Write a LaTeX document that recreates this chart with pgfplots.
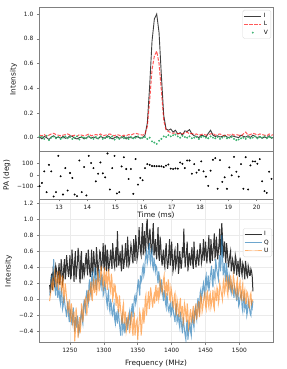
\documentclass[border=0pt]{standalone}
\usepackage{fontspec}
\setmainfont{DejaVu Sans}
\usepackage{pgfplots}
\usepackage{pgfplotstable}
\pgfplotsset{compat=1.18}
\definecolor{tabblue}{HTML}{1F77B4}
\definecolor{taborange}{HTML}{FF7F0E}
\definecolor{vgreen}{HTML}{3CB371}
\definecolor{spine}{HTML}{808080}

\pgfplotstableread{
t I L V PA
12.310 0.005 0.02 0.01 -96
12.393 -0.01 0.015 0.005 -68
12.476 0.01 0.025 -0.01 31
12.559 0.0 0.01 0.015 -147
12.642 -0.015 0.02 -0.02 87
12.725 0.005 0.03 0.0 31
12.808 0.015 0.035 0.01 -184
12.891 0.0 0.025 -0.005 -147
12.974 0.005 0.02 0.005 164
13.057 -0.005 0.015 -0.01 -11
13.140 0.01 0.02 0.0 -167
13.223 -0.005 0.025 0.01 59
13.306 0.0 0.03 -0.005 -133
13.389 0.015 0.02 0.005 17
13.472 0.01 0.015 -0.01 -25
13.555 -0.005 0.02 0.0 -167
13.638 -0.01 0.01 0.01 -181
13.721 0.0 0.025 -0.015 124
13.804 0.005 0.02 0.005 -147
13.887 -0.01 0.015 0.0 68
13.970 0.0 0.02 -0.005 -175
14.053 0.01 0.03 0.01 164
14.136 -0.005 0.015 0.0 102
14.219 0.005 0.02 -0.01 59
14.302 0.0 0.025 0.005 -54
14.385 -0.01 0.02 -0.005 11
14.468 0.01 0.03 0.01 107
14.551 0.0 0.015 -0.01 14
14.634 -0.005 0.02 0.0 -20
14.717 0.015 0.025 0.005 184
14.800 0.005 0.03 -0.005 -124
14.883 -0.01 0.02 0.01 59
14.966 0.0 0.015 -0.015 164
15.049 0.01 0.025 0.0 -158
15.132 -0.005 0.02 -0.01 -147
15.215 0.0 0.01 0.005 73
15.298 0.01 0.02 -0.005 152
15.381 -0.01 0.015 0.0 51
15.464 0.005 0.025 -0.01 -34
15.547 0.0 0.02 0.005 51
15.630 -0.005 0.03 -0.005 -161
15.713 0.01 0.035 0.0 136
15.796 0.005 0.03 0.01 -82
15.879 -0.005 0.025 -0.005 -25
15.962 0.0 0.02 0.0 -45
16.045 0.02 0.03 0.005 59
16.128 0.12 0.09 -0.01 93
16.211 0.42 0.3 0.0 87
16.294 0.78 0.55 -0.03 77
16.377 0.96 0.66 -0.04 76
16.460 1.0 0.7 -0.05 75
16.543 0.85 0.6 -0.025 75
16.626 0.5 0.38 -0.01 74
16.709 0.18 0.14 0.01 68
16.792 0.07 0.06 0.005 80
16.875 0.06 0.05 0.02 90
16.958 0.07 0.04 0.01 54
17.041 0.045 0.035 0.02 51
17.124 0.06 0.04 0.025 56
17.207 0.03 0.03 0.01 54
17.290 0.04 0.035 0.0 107
17.373 0.02 0.03 0.015 96
17.456 0.055 0.04 0.005 59
17.539 0.05 0.045 0.0 124
17.622 0.065 0.03 0.01 124
17.705 0.03 0.035 -0.005 11
17.788 0.015 0.025 0.0 93
17.871 0.01 0.03 0.005 20
17.954 0.0 0.02 -0.01 42
18.037 0.02 0.025 0.005 116
18.120 0.015 0.03 0.01 31
18.203 0.005 0.02 0.0 -14
18.286 0.035 0.025 -0.005 -93
18.369 0.06 0.03 0.01 37
18.452 0.02 0.035 0.0 130
18.535 0.01 0.02 -0.005 144
18.618 0.015 0.025 0.005 -118
18.701 0.005 0.03 -0.01 127
18.784 0.01 0.02 0.0 -59
18.867 0.02 0.015 0.01 -20
18.950 0.005 0.025 -0.005 -118
19.033 0.0 0.02 0.0 65
19.116 0.015 0.03 0.005 -3
19.199 0.01 0.02 -0.01 155
19.282 0.005 0.025 -0.02 28
19.365 0.0 0.02 -0.015 -14
19.448 0.02 0.015 -0.005 93
19.531 0.01 0.03 0.0 -118
19.614 0.005 0.045 -0.01 152
19.697 0.015 0.02 0.005 -124
19.780 0.0 0.025 -0.005 82
19.863 0.02 0.035 0.0 116
19.946 0.01 0.03 0.01 116
20.029 0.0 0.02 -0.005 96
20.112 0.01 0.03 0.005 136
20.195 -0.005 0.025 0.0 -54
20.278 0.005 0.02 0.01 -138
20.361 0.0 0.015 -0.005 -153
20.444 0.015 0.03 0.005 28
20.527 -0.005 0.02 0.0 -34
20.610 0.005 0.025 0.01 -60
}\tabtime

\pgfplotstableread{
f I Q U
1220 0.18 0.05 -0.02
1221 0.08 0.1 0.05
1222 0.25 0.15 0.12
1223 0.32 0.3 0.2
1224 0.12 0.22 0.25
1225 0.35 0.28 0.1
1226 0.3 0.5 0.18
1227 0.15 0.3 0.35
1228 0.22 0.12 0.3
1229 0.42 0.05 0.22
1230 0.38 0.2 0.15
1231 0.3 0.25 0.28
1232 0.2 0.02 0.35
1233 0.35 0.08 0.12
1234 0.45 0.12 0.2
1235 0.18 0.0 0.32
1236 0.28 -0.05 0.28
1237 0.5 0.15 0.15
1238 0.4 0.08 0.1
1239 0.2 -0.12 0.3
1240 0.25 -0.08 0.22
1241 0.42 0.05 0.0
1242 0.5 -0.02 0.05
1243 0.25 -0.1 0.2
1244 0.32 -0.15 0.12
1245 0.55 -0.22 0.02
1246 0.45 -0.08 -0.05
1247 0.35 -0.02 -0.15
1248 0.28 -0.2 -0.1
1249 0.42 -0.28 0.0
1250 0.55 -0.12 -0.18
1251 0.25 -0.15 -0.28
1252 0.3 -0.25 -0.05
1253 0.62 -0.32 -0.12
1254 0.48 -0.18 -0.3
1255 0.4 -0.1 -0.25
1256 0.22 -0.3 -0.15
1257 0.48 -0.4 -0.52
1258 0.6 -0.22 -0.4
1259 0.25 -0.28 -0.1
1260 0.35 -0.35 -0.2
1261 0.45 -0.2 -0.35
1262 0.64 -0.28 -0.48
1263 0.55 -0.42 -0.3
1264 0.3 -0.38 -0.22
1265 0.2 -0.3 -0.42
1266 0.52 -0.2 -0.32
1267 0.6 -0.15 -0.05
1268 0.25 -0.25 -0.1
1269 0.38 -0.3 -0.28
1270 0.45 -0.08 -0.2
1271 0.3 0.0 -0.08
1272 0.35 -0.1 0.0
1273 0.5 -0.15 0.02
1274 0.58 0.05 -0.12
1275 0.4 0.12 -0.2
1276 0.3 0.0 0.05
1277 0.62 -0.05 0.12
1278 0.5 0.18 -0.02
1279 0.35 0.25 0.0
1280 0.28 0.1 0.15
1281 0.45 0.05 0.22
1282 0.62 0.28 0.05
1283 0.3 0.35 -0.02
1284 0.35 0.18 0.2
1285 0.6 0.15 0.25
1286 0.48 0.32 0.08
1287 0.4 0.4 0.15
1288 0.3 0.2 0.25
1289 0.65 0.12 0.05
1290 0.55 0.35 0.12
1291 0.3 0.28 0.35
1292 0.38 0.22 0.3
1293 0.48 0.38 0.1
1294 0.6 0.3 0.18
1295 0.58 0.2 0.28
1296 0.35 0.15 0.42
1297 0.42 0.32 0.3
1298 0.52 0.25 0.2
1299 0.7 0.05 0.15
1300 0.4 0.08 0.32
1301 0.38 0.2 0.4
1302 0.68 0.15 0.15
1303 0.5 0.1 0.25
1304 0.35 -0.02 0.35
1305 0.62 -0.08 0.12
1306 0.55 0.05 0.2
1307 0.35 0.1 0.38
1308 0.42 -0.1 0.28
1309 0.5 -0.15 0.15
1310 0.62 -0.02 0.1
1311 0.48 -0.05 0.32
1312 0.38 -0.18 0.25
1313 0.7 -0.2 0.0
1314 0.58 -0.1 0.05
1315 0.45 -0.05 0.2
1316 0.4 -0.25 0.12
1317 0.55 -0.3 0.15
1318 0.65 -0.15 -0.08
1319 0.4 -0.22 0.05
1320 0.85 -0.3 0.02
1321 0.6 -0.12 -0.12
1322 0.42 -0.2 -0.15
1323 0.5 -0.3 0.05
1324 0.6 -0.38 -0.05
1325 0.45 -0.45 -0.15
1326 0.35 -0.25 -0.22
1327 0.68 -0.2 -0.3
1328 0.55 -0.4 -0.1
1329 0.38 -0.35 -0.05
1330 0.45 -0.28 -0.3
1331 0.55 -0.42 -0.22
1332 0.7 -0.35 -0.15
1333 0.5 -0.28 -0.4
1334 0.4 -0.22 -0.35
1335 0.78 -0.38 -0.25
1336 0.62 -0.3 -0.2
1337 0.42 -0.2 -0.3
1338 0.45 -0.15 -0.42
1339 0.58 -0.32 -0.35
1340 0.68 -0.2 -0.22
1341 0.62 -0.12 -0.15
1342 0.5 -0.05 -0.38
1343 0.45 -0.22 -0.45
1344 0.75 -0.1 -0.25
1345 0.6 0.02 -0.2
1346 0.48 0.05 -0.45
1347 0.8 -0.05 -0.35
1348 0.7 0.0 -0.28
1349 0.5 0.1 -0.25
1350 0.55 0.18 -0.5
1351 0.65 0.25 -0.38
1352 0.9 0.12 -0.3
1353 0.72 0.05 -0.15
1354 0.6 0.3 -0.2
1355 0.55 0.22 -0.45
1356 0.8 0.25 -0.35
1357 0.95 0.38 -0.2
1358 0.55 0.42 -0.1
1359 0.7 0.3 -0.3
1360 0.85 0.35 -0.22
1361 0.6 0.48 0.0
1362 0.65 0.55 0.05
1363 0.92 0.6 -0.2
1364 1.0 0.45 -0.08
1365 0.7 0.5 0.0
1366 0.62 0.62 0.1
1367 0.8 0.7 -0.12
1368 0.88 0.5 -0.05
1369 0.72 0.45 0.15
1370 0.58 0.58 0.08
1371 0.6 0.62 -0.02
1372 0.82 0.42 -0.1
1373 0.95 0.38 0.0
1374 0.55 0.52 0.05
1375 0.62 0.45 -0.05
1376 0.75 0.35 0.12
1377 0.58 0.42 0.18
1378 0.5 0.4 -0.02
1379 0.72 0.28 0.05
1380 0.9 0.2 0.15
1381 0.55 0.35 0.0
1382 0.48 0.28 0.05
1383 0.78 0.15 0.25
1384 0.68 0.1 0.2
1385 0.5 0.25 0.12
1386 0.42 0.15 0.08
1387 0.55 0.05 0.15
1388 0.62 -0.02 0.25
1389 0.45 0.12 0.3
1390 0.4 0.05 0.1
1391 0.6 -0.05 0.05
1392 0.7 -0.1 0.22
1393 0.5 0.08 0.15
1394 0.38 -0.02 0.05
1395 0.45 -0.12 0.25
1396 0.6 -0.15 0.18
1397 0.75 -0.08 0.0
1398 0.42 -0.05 -0.02
1399 0.5 -0.2 0.15
1400 0.72 -0.18 0.1
1401 0.55 -0.02 0.02
1402 0.35 -0.1 -0.08
1403 0.4 -0.18 -0.1
1404 0.58 -0.22 0.05
1405 0.62 -0.28 0.08
1406 0.4 -0.12 -0.12
1407 0.45 -0.05 -0.2
1408 0.55 -0.28 0.0
1409 0.7 -0.25 -0.05
1410 0.32 -0.18 -0.15
1411 0.4 -0.3 -0.22
1412 0.6 -0.35 -0.05
1413 0.5 -0.15 0.02
1414 0.38 -0.25 -0.2
1415 0.45 -0.35 -0.15
1416 0.65 -0.42 -0.08
1417 0.52 -0.22 -0.3
1418 0.88 -0.3 -0.25
1419 0.6 -0.38 -0.05
1420 0.4 -0.45 -0.1
1421 0.5 -0.5 -0.2
1422 0.6 -0.32 -0.28
1423 0.72 -0.25 -0.05
1424 0.35 -0.5 -0.15
1425 0.45 -0.42 -0.35
1426 0.58 -0.35 -0.3
1427 0.5 -0.28 -0.18
1428 0.42 -0.4 -0.12
1429 0.55 -0.45 -0.28
1430 0.65 -0.25 -0.25
1431 0.45 -0.2 -0.15
1432 0.38 -0.3 -0.08
1433 0.72 -0.35 -0.3
1434 0.55 -0.15 -0.22
1435 0.48 -0.1 -0.12
1436 0.4 -0.2 -0.05
1437 0.52 -0.25 -0.25
1438 0.62 -0.05 -0.18
1439 0.5 0.02 -0.08
1440 0.42 -0.1 -0.02
1441 0.55 -0.15 -0.22
1442 0.7 0.08 -0.15
1443 0.62 0.12 0.05
1444 0.45 0.0 0.02
1445 0.5 0.05 -0.15
1446 0.6 0.15 -0.1
1447 0.75 0.2 -0.02
1448 0.48 0.1 0.05
1449 0.55 0.05 0.08
1450 0.72 0.25 -0.08
1451 0.6 0.3 -0.12
1452 0.45 0.15 0.08
1453 0.58 0.2 0.1
1454 0.65 0.3 -0.05
1455 0.8 0.1 -0.1
1456 0.5 0.18 0.05
1457 0.45 0.28 0.08
1458 0.75 0.35 -0.1
1459 0.62 0.42 -0.05
1460 0.48 0.22 0.02
1461 0.6 0.15 0.12
1462 0.68 0.38 -0.08
1463 0.82 0.3 -0.12
1464 0.52 0.25 0.1
1465 0.55 0.5 0.05
1466 0.78 0.42 -0.02
1467 0.65 0.35 0.15
1468 0.5 0.3 0.12
1469 0.6 0.25 -0.05
1470 0.7 0.48 0.0
1471 0.88 0.55 0.2
1472 0.55 0.35 0.15
1473 0.6 0.45 0.1
1474 0.95 0.8 0.05
1475 0.78 0.6 0.0
1476 0.52 0.3 0.2
1477 0.65 0.35 0.25
1478 0.72 0.45 0.08
1479 0.55 0.3 0.12
1480 0.45 0.22 0.22
1481 0.7 0.45 0.3
1482 0.62 0.35 0.1
1483 0.5 0.2 0.05
1484 0.4 0.15 0.25
1485 0.48 0.3 0.2
1486 0.55 0.25 0.12
1487 0.6 0.12 0.3
1488 0.35 0.08 0.22
1489 0.42 0.2 0.1
1490 0.5 0.15 0.08
1491 0.45 0.1 0.3
1492 0.32 0.02 0.25
1493 0.4 0.15 0.15
1494 0.55 0.1 0.1
1495 0.5 0.05 0.05
1496 0.3 -0.02 0.2
1497 0.4 0.12 0.25
1498 0.48 0.08 0.05
1499 0.35 -0.08 0.1
1500 0.28 -0.05 0.18
1501 0.52 0.02 0.22
1502 0.45 0.05 0.02
1503 0.35 0.08 0.0
1504 0.3 -0.1 0.15
1505 0.45 -0.15 0.2
1506 0.42 0.0 -0.02
1507 0.35 0.05 0.08
1508 0.25 -0.12 0.12
1509 0.48 -0.08 -0.05
1510 0.4 -0.05 -0.05
1511 0.3 -0.2 0.1
1512 0.28 -0.15 0.08
1513 0.42 -0.02 0.02
1514 0.38 -0.08 -0.08
1515 0.3 -0.12 -0.1
1516 0.3 -0.18 0.05
1517 0.38 -0.2 0.08
1518 0.35 -0.05 -0.05
1519 0.28 -0.1 -0.02
1520 0.1 -0.02 0.0
}\tabfreq

\pgfplotsset{
  myax/.style={
    scale only axis, width=234bp, anchor=south west,
    axis line style={spine, line width=0.6bp},
    tick style={spine, line width=0.5bp},
    major tick length=2.2bp, tick align=outside,
    xtick pos=bottom, ytick pos=left,
    tick label style={font=\fontsize{5.9}{7}\selectfont, color=black!90},
    label style={font=\fontsize{7.4}{9}\selectfont, color=black!90},
    /pgf/number format/assume math mode=true,
    legend cell align=left,
    legend style={font=\fontsize{5.9}{7}\selectfont, draw=black!15, rounded corners=1.5bp,
      fill=white, fill opacity=0.8, text opacity=1, inner sep=1bp, row sep=-1.5bp,
      at={(1,1)}, anchor=north east},
  }
}

\begin{document}
\begin{tikzpicture}
\path[use as bounding box] (0,0) rectangle (287bp,369bp);

% bottom panel
\begin{axis}[myax, at={(39bp,26.3bp)}, height=143.4bp,
  xmin=1204.3, xmax=1549.6, ymin=-0.537, ymax=1.245,
  xtick={1250,1300,1350,1400,1450,1500,1550},
  xticklabels={1250,1300,1350,1400,1450,1500,1550},
  ytick={-0.4,-0.2,0,0.2,0.4,0.6,0.8,1.0,1.2},
  yticklabels={−0.4,−0.2,0.0,0.2,0.4,0.6,0.8,1.0,1.2},
  grid=major, grid style={black!8, line width=0.5bp},
  xlabel={Frequency (MHz)}, ylabel={Intensity},
  legend style={xshift=-1bp, yshift=-29bp}]
\addplot[black, opacity=0.8, line width=1bp] table[x=f, y=I] {\tabfreq};
\addlegendentry{I}
\addplot[tabblue, opacity=0.65, line width=1bp] table[x=f, y=Q] {\tabfreq};
\addlegendentry{Q}
\addplot[taborange, opacity=0.6, line width=1bp] table[x=f, y=U] {\tabfreq};
\addlegendentry{U}
\end{axis}

% top panel
\begin{axis}[myax, at={(39bp,217.5bp)}, height=144.5bp,
  xmin=12.29, xmax=20.58, ymin=-0.112, ymax=1.057,
  xtick=\empty,
  ytick={0,0.2,0.4,0.6,0.8,1.0},
  yticklabels={0.0,0.2,0.4,0.6,0.8,1.0},
  ylabel={Intensity},
  legend style={xshift=-2bp, yshift=-3bp}]
\addplot[black, opacity=0.75, line width=0.9bp] table[x=t, y=I] {\tabtime};
\addlegendentry{I}
\addplot[red, opacity=0.65, line width=1bp, dash pattern=on 3.5bp off 1.5bp] table[x=t, y=L] {\tabtime};
\addlegendentry{L}
\addplot[only marks, mark=*, mark size=0.75bp, vgreen, mark options={draw=vgreen, fill=vgreen}] table[x=t, y=V] {\tabtime};
\addlegendentry{V}
\end{axis}

% middle panel
\begin{axis}[myax, at={(39bp,169.7bp)}, height=47.8bp,
  xmin=12.29, xmax=20.58, ymin=-208, ymax=201,
  xtick={13,14,15,16,17,18,19,20},
  xticklabels={13,14,15,16,17,18,19,20},
  ytick={-100,0,100}, yticklabels={−100,0,100},
  xlabel={Time (ms)}, ylabel={PA (deg)},
  xlabel style={yshift=4bp}]
\addplot[only marks, mark=*, mark size=0.75bp, black] table[x=t, y=PA] {\tabtime};
\end{axis}
\end{tikzpicture}
\end{document}
